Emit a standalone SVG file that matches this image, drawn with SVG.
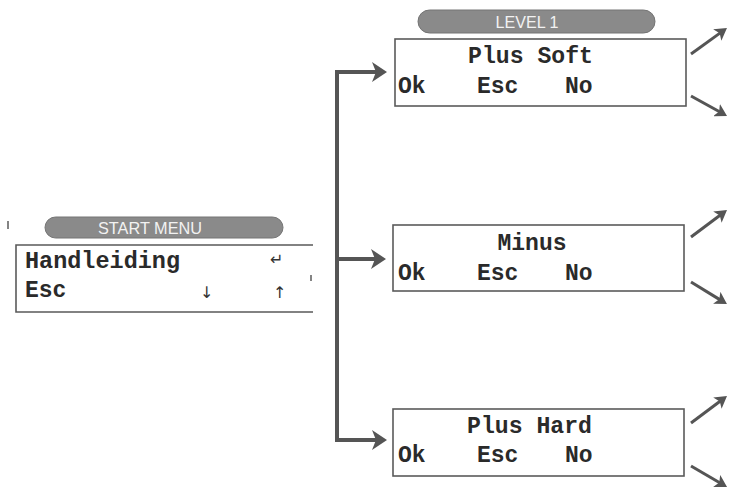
<svg xmlns="http://www.w3.org/2000/svg" width="730" height="488" viewBox="0 0 730 488">
<defs>
<style>
.box{fill:#fff;stroke:#5a5a5a;stroke-width:1.6}
.lcd{font-family:"Liberation Mono","Courier New",monospace;font-weight:bold;font-size:23px;fill:#2a2a2a}
.pill{fill:#8a8a8a;stroke:#747474;stroke-width:1}
.ptxt{font-family:"Liberation Sans",Arial,sans-serif;font-size:17px;fill:#f2f2f2;text-anchor:middle}
.main{fill:none;stroke:#555;stroke-width:4;stroke-linejoin:miter}
.diag{fill:none;stroke:#555;stroke-width:3}
.sym{font-family:"DejaVu Sans",sans-serif;font-size:16px;fill:#333}
</style>
<marker id="big" markerUnits="userSpaceOnUse" viewBox="0 0 15 20" markerWidth="15" markerHeight="20" refX="6" refY="10" orient="auto-start-reverse">
<path d="M0,0 L15,10 L0,20 L4,10 z" fill="#555"/>
</marker>
<marker id="small" markerUnits="userSpaceOnUse" viewBox="0 0 12 14" markerWidth="12" markerHeight="14" refX="5" refY="7" orient="auto">
<path d="M0,0 L12,7 L0,14 L3,7 z" fill="#555"/>
</marker>
</defs>

<g id="connectors">
<path class="main" d="M378,72 H337 V440 H378" marker-end="url(#big)"/>
<path class="main" d="M337,72 H378" marker-end="url(#big)"/>
<path class="main" d="M337,259 H377" marker-end="url(#big)"/>
<path class="diag" d="M691,54 L721.3,32.1" marker-end="url(#small)"/>
<path class="diag" d="M691,96 L720.9,112.5" marker-end="url(#small)"/>
<path class="diag" d="M691,237 L721.4,214.2" marker-end="url(#small)"/>
<path class="diag" d="M691,282 L721,300.4" marker-end="url(#small)"/>
<path class="diag" d="M691,423 L721.4,400.2" marker-end="url(#small)"/>
<path class="diag" d="M691,466 L721,483.5" marker-end="url(#small)"/>
</g>

<g id="start-menu">
<rect class="pill" x="45" y="217" width="238" height="21" rx="10.5"/>
<text class="ptxt" x="150" y="234" textLength="104" lengthAdjust="spacingAndGlyphs">START MENU</text>
<path d="M313,245 H16 V312 H313" fill="none" stroke="#5a5a5a" stroke-width="1.6"/>
<text class="lcd" x="25" y="268" textLength="155" lengthAdjust="spacingAndGlyphs">Handleiding</text>
<text class="lcd" x="25" y="297">Esc</text>
<text class="sym" x="270" y="265">↵&#xFE0E;</text>
<text class="sym" x="200" y="298">↓&#xFE0E;</text>
<text class="sym" x="273" y="298">↑&#xFE0E;</text>
<path d="M8,221 v8 M311,275 v6" stroke="#666" stroke-width="1.6"/>
</g>

<g id="plus-soft">
<rect class="pill" x="418" y="10" width="237" height="23" rx="11.5"/>
<text class="ptxt" x="527" y="28" textLength="63" lengthAdjust="spacingAndGlyphs">LEVEL 1</text>
<rect class="box" x="395" y="39" width="291" height="67"/>
<text class="lcd" x="468" y="63" textLength="125" lengthAdjust="spacingAndGlyphs">Plus Soft</text>
<text class="lcd" x="398" y="93">Ok</text>
<text class="lcd" x="477" y="93">Esc</text>
<text class="lcd" x="565" y="93">No</text>
</g>

<g id="minus">
<rect class="box" x="393" y="225" width="291" height="66"/>
<text class="lcd" x="532" y="250" text-anchor="middle">Minus</text>
<text class="lcd" x="398" y="280">Ok</text>
<text class="lcd" x="477" y="280">Esc</text>
<text class="lcd" x="565" y="280">No</text>
</g>

<g id="plus-hard">
<rect class="box" x="393" y="409" width="291" height="67"/>
<text class="lcd" x="467" y="433" textLength="125" lengthAdjust="spacingAndGlyphs">Plus Hard</text>
<text class="lcd" x="398" y="462">Ok</text>
<text class="lcd" x="477" y="462">Esc</text>
<text class="lcd" x="565" y="462">No</text>
</g>
</svg>
